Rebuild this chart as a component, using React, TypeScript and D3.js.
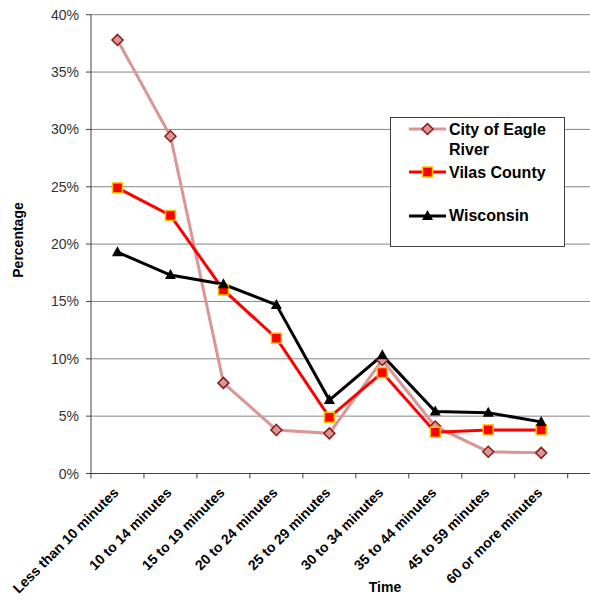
import React from "react";
import * as d3 from "d3";

const categories = [
  "Less than 10 minutes",
  "10 to 14 minutes",
  "15 to 19 minutes",
  "20 to 24 minutes",
  "25 to 29 minutes",
  "30 to 34 minutes",
  "35 to 44 minutes",
  "45 to 59 minutes",
  "60 or more minutes",
];
const eagleRiver = [37.8, 29.4, 7.9, 3.8, 3.5, 9.9, 4.1, 1.9, 1.8];
const vilasCounty = [24.9, 22.5, 16.0, 11.8, 4.9, 8.8, 3.6, 3.8, 3.8];
const wisconsin = [19.3, 17.3, 16.5, 14.7, 6.4, 10.3, 5.4, 5.3, 4.5];
const yTicks = [0, 5, 10, 15, 20, 25, 30, 35, 40];

const W = 590;
const H = 607;
const left = 91;
const right = 567.7;
const top = 14.7;
const bottom = 473.5;
const gridRight = 592;

export default function App() {
  const x = d3.scaleBand<string>().domain(categories).range([left, right]);
  const y = d3.scaleLinear().domain([0, 40]).range([bottom, top]);
  const cx = (c: string) => (x(c) as number) + x.bandwidth() / 2;
  const line = d3
    .line<number>()
    .x((_, i) => cx(categories[i]))
    .y((d) => y(d));

  const boundaries = categories.map((c) => x(c) as number).concat([right]);
  const font = "Arial, 'Liberation Sans', sans-serif";

  const diamond = (px: number, py: number, k: number) => {
    const r = 5.5;
    return (
      <path
        key={k}
        d={`M${px},${py - r}L${px + r},${py}L${px},${py + r}L${px - r},${py}Z`}
        fill="#D99694"
        stroke="#8B1A1A"
        strokeWidth={1.5}
      />
    );
  };
  const square = (px: number, py: number, k: number) => (
    <rect
      key={k}
      x={px - 5}
      y={py - 5}
      width={10}
      height={10}
      fill="#FF0000"
      stroke="#FFC000"
      strokeWidth={1.5}
    />
  );
  const triangle = (px: number, py: number, k: number) => (
    <path
      key={k}
      d={`M${px},${py - 6}L${px + 5.5},${py + 4}L${px - 5.5},${py + 4}Z`}
      fill="#000"
    />
  );

  const lg = { x: 390.5, y: 117.5, w: 174, h: 129 };

  return (
    <svg
      width={W}
      height={H}
      style={{ position: "absolute", left: 0, top: 0, background: "#fff" }}
      fontFamily={font}
    >
      <rect x={0} y={0} width={W} height={H} fill="#fff" />
      {/* gridlines */}
      {yTicks.map((t) => (
        <g key={t}>
          {t > 0 && (
            <line x1={left} x2={gridRight} y1={y(t)} y2={y(t)} stroke="#868686" strokeWidth={1} />
          )}
          <line x1={left - 5} x2={left} y1={y(t)} y2={y(t)} stroke="#404040" strokeWidth={1} />
          <text
            x={79}
            y={y(t) + 5}
            textAnchor="end"
            fontSize={14}
            fill="#333"
          >
            {t}%
          </text>
        </g>
      ))}
      {/* axes */}
      <line x1={left} x2={left} y1={top} y2={bottom} stroke="#404040" strokeWidth={1} />
      <line x1={left} x2={gridRight} y1={bottom} y2={bottom} stroke="#404040" strokeWidth={1} />
      {boundaries.map((b, i) => (
        <line key={i} x1={b} x2={b} y1={bottom} y2={bottom + 5} stroke="#404040" strokeWidth={1} />
      ))}
      {categories.map((c) => (
        <text
          key={c}
          transform={`translate(${cx(c) + 2},${bottom + 20}) rotate(-45)`}
          textAnchor="end"
          fontSize={14}
          fontWeight="bold"
          fill="#000"
        >
          {c}
        </text>
      ))}
      <text x={385} y={592} textAnchor="middle" fontSize={14} fontWeight="bold">
        Time
      </text>
      <text
        transform={`translate(23,${240}) rotate(-90)`}
        textAnchor="middle"
        fontSize={14}
        fontWeight="bold"
      >
        Percentage
      </text>

      {/* series */}
      <path d={line(eagleRiver) || ""} fill="none" stroke="#D99694" strokeWidth={3} />
      <path d={line(vilasCounty) || ""} fill="none" stroke="#FF0000" strokeWidth={3} />
      <path d={line(wisconsin) || ""} fill="none" stroke="#000" strokeWidth={3} />
      {eagleRiver.map((v, i) => diamond(cx(categories[i]), y(v), i))}
      {vilasCounty.map((v, i) => square(cx(categories[i]), y(v), i))}
      {wisconsin.map((v, i) => triangle(cx(categories[i]), y(v), i))}

      {/* legend */}
      <rect x={lg.x} y={lg.y} width={lg.w} height={lg.h} fill="#fff" stroke="#404040" strokeWidth={1} />
      <line x1={409} x2={446} y1={129} y2={129} stroke="#D99694" strokeWidth={3} />
      {diamond(427.5, 129, 100)}
      <line x1={409} x2={446} y1={172} y2={172} stroke="#FF0000" strokeWidth={3} />
      {square(427.5, 172, 101)}
      <line x1={409} x2={446} y1={216} y2={216} stroke="#000" strokeWidth={3} />
      {triangle(427.5, 216, 102)}
      <g fontSize={16} fontWeight="bold" fill="#000">
        <text x={449} y={135}>City of Eagle</text>
        <text x={449} y={155}>River</text>
        <text x={449} y={178}>Vilas County</text>
        <text x={449} y={221}>Wisconsin</text>
      </g>
    </svg>
  );
}
